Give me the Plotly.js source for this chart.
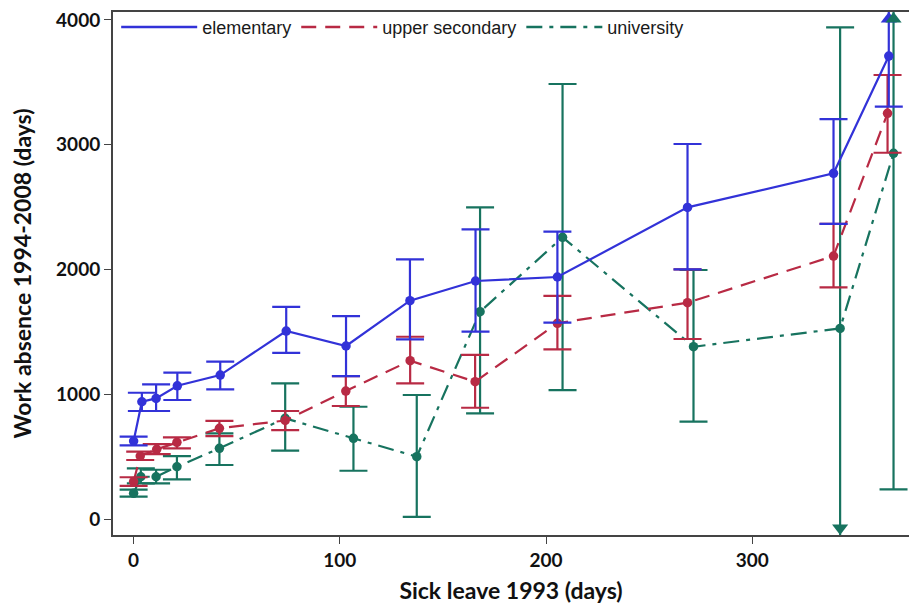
<!DOCTYPE html>
<html>
<head>
<meta charset="utf-8">
<script src="https://cdn.plot.ly/plotly-3.0.1.min.js"></script>
<style>html,body{margin:0;padding:0;background:#fff;}#chart{width:909px;height:604px;}</style>
</head>
<body>
<div id="chart"></div>
<script>
// Series names
const seriesNames = ["elementary", "upper secondary", "university"];

// Elementary
const elemX = [0, 4, 10.9, 21.2, 42, 74, 103, 134, 165.8, 205.5, 268.6, 339.4, 366.2];
const elemY = [625, 940, 967, 1068, 1154, 1507, 1387, 1750, 1908, 1940, 2498, 2771, 3711];
const elemUpper = [660, 1012, 1080, 1173, 1261, 1700, 1627, 2082, 2322, 2303, 3006, 3206, 4120];
const elemLower = [590, 866, 866, 954, 1040, 1331, 1146, 1440, 1502, 1574, 2001, 2365, 3305];

// Upper secondary
const secX = [0, 3.2, 11.2, 21, 41.6, 73.5, 102.9, 134.1, 165.6, 205.5, 268.6, 339.4, 365.6];
const secY = [300, 505, 559, 615, 727, 790, 1026, 1269, 1101, 1569, 1734, 2108, 3252];
const secUpper = [335, 540, 600, 655, 786, 866, 1146, 1461, 1315, 1788, 2001, 2365, 3559];
const secLower = [265, 473, 520, 567, 665, 713, 906, 1088, 892, 1360, 1443, 1857, 2936];

// University
const uniX = [0, 3.5, 10.9, 21, 41.6, 73.5, 106.6, 137.3, 168, 208, 271.5, 342.6, 368.5];
const uniY = [206, 339, 339, 419, 567, 807, 647, 500, 1662, 2258, 1381, 1528, 2931];
const uniUpper = [235, 406, 395, 505, 687, 1088, 900, 994, 2498, 3487, 1996, 3941, 5620];
const uniLower = [180, 286, 286, 318, 433, 548, 387, 18, 847, 1034, 780, -885, 238];

// Axis ticks
const xTicks = [0, 100, 200, 300];
const yTicks = [0, 1000, 2000, 3000, 4000];

const colors = ["#3232d8", "#b82a44", "#17735f"];
const dashes = ["solid", "15px,9px", "16px,7px,4px,7px"];
const xRange = [-10, 376];
const yRange = [-128, 4064];
const plotH = 604 - 12 - 69;

const series = [
  [elemX, elemY, elemUpper, elemLower],
  [secX, secY, secUpper, secLower],
  [uniX, uniY, uniUpper, uniLower]
];

const traces = [];
[2, 1, 0].forEach(i => {
  const [xs, ys, up, lo] = series[i];
  traces.push({
    x: xs, y: ys, type: "scatter", mode: "lines+markers", showlegend: false,
    line: {color: colors[i], width: 2.2, dash: dashes[i]},
    marker: {color: colors[i], size: 9.5},
    error_y: {
      type: "data", symmetric: false,
      array: up.map((u, k) => u - ys[k]),
      arrayminus: lo.map((l, k) => ys[k] - l),
      color: colors[i], thickness: 2.2, width: 14
    },
    hoverinfo: "skip"
  });
});

// arrows where the CI is clipped by the axis
const dyPerPx = (yRange[1] - yRange[0]) / plotH;
series.forEach((s, i) => {
  const [xs, ys, up, lo] = s;
  const ax = [], ay = [], sym = [];
  xs.forEach((x, k) => {
    if (up[k] > yRange[1]) { ax.push(x); ay.push(yRange[1] - 7 * dyPerPx); sym.push("triangle-up"); }
    if (lo[k] < yRange[0]) { ax.push(x); ay.push(yRange[0] + 7 * dyPerPx); sym.push("triangle-down"); }
  });
  if (ax.length) {
    traces.push({x: ax, y: ay, type: "scatter", mode: "markers", showlegend: false,
      marker: {color: colors[i], size: 14, symbol: sym}, cliponaxis: false, hoverinfo: "skip"});
  }
});

// legend entries (lines only)
[0, 1, 2].forEach(i => {
  traces.push({x: [null], y: [null], type: "scatter", mode: "lines", name: seriesNames[i],
    line: {color: colors[i], width: 2.5, dash: dashes[i]}});
});

const fam = "Lato, 'Open Sans', sans-serif";
const tickFont = {family: fam, size: 19, color: "#111", weight: "bold"};
const titleFont = {family: fam, size: 23, color: "#111", weight: "bold"};
const layout = {
  width: 909, height: 604,
  margin: {l: 113, r: 0, t: 12, b: 69},
  paper_bgcolor: "#fff", plot_bgcolor: "#fff",
  showlegend: true,
  legend: {x: 0.004, y: 1.006, xanchor: "left", yanchor: "top", orientation: "h",
    font: {family: "'Liberation Sans', Arial, sans-serif", size: 18, color: "#1a1a1a"},
    bgcolor: "rgba(0,0,0,0)", itemwidth: 76, tracegroupgap: 0},
  xaxis: {
    range: xRange, tickvals: xTicks, ticktext: xTicks.map(String),
    showgrid: false, zeroline: false, showline: true, mirror: true,
    linecolor: "#444", linewidth: 2, ticks: "outside", ticklen: 7, tickcolor: "#444",
    tickfont: tickFont,
    title: {text: "Sick leave 1993 (days)", font: titleFont, standoff: 16}
  },
  yaxis: {
    range: yRange, tickvals: yTicks, ticktext: yTicks.map(String),
    showgrid: false, zeroline: false, showline: true, mirror: true,
    linecolor: "#444", linewidth: 2, ticks: "outside", ticklen: 7, tickcolor: "#444",
    tickfont: tickFont,
    title: {text: "Work absence 1994-2008 (days)", font: titleFont, standoff: 18}
  }
};

Plotly.newPlot("chart", traces, layout, {staticPlot: true, displayModeBar: false});
</script>
</body>
</html>
